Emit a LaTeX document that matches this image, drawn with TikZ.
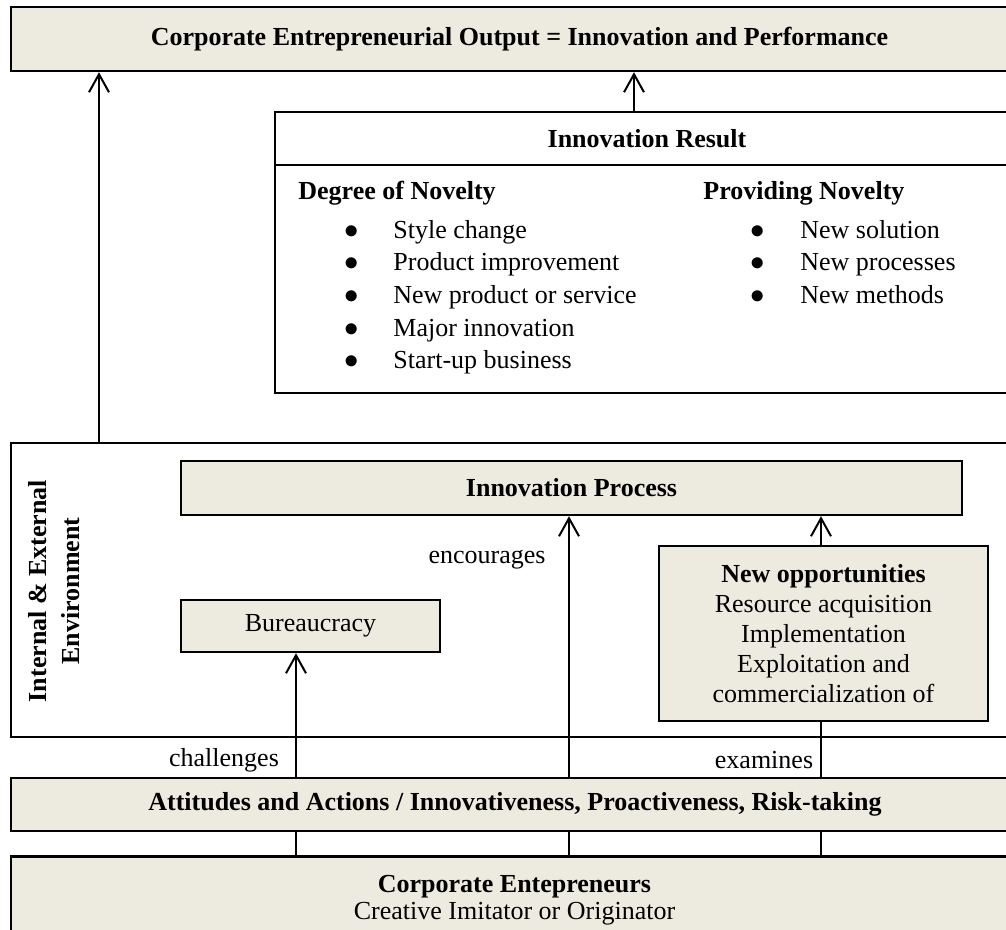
\documentclass[tikz,border=0pt]{standalone}
\usepackage{fontspec}
\setmainfont{Liberation Serif}
\usetikzlibrary{positioning, arrows.meta}
\definecolor{boxfill}{RGB}{237,235,224}
\newcommand{\diagfont}{\fontsize{13}{15}\selectfont}

\begin{document}
\begin{tikzpicture}[x=0.5pt, y=-0.5pt, font=\diagfont,
    box/.style={draw, line width=1.2pt, fill=boxfill, inner sep=0pt, align=center},
    whitebox/.style={box, fill=white},
    listtext/.style={anchor=base west, inner sep=0pt},
    link/.style={line width=1pt, -{Straight Barb[length=9pt, width=10pt]}},
    plain/.style={line width=1pt}]

    \useasboundingbox (0, 0) rectangle (1006, 930);
    \clip (0, 0) rectangle (1006, 930);

    % output on top
    \node[box, minimum width=508.5pt, minimum height=32pt, font=\diagfont\bfseries] (output)
        at (519.5, 39) {Corporate Entrepreneurial Output = Innovation and Performance};

    % innovation result
    \node[whitebox, minimum width=372pt, minimum height=140.5pt] (result) at (647, 252.5) {};
    \coordinate (hdr) at (275, 165);
    \draw[line width=1.2pt] (hdr) -- (hdr -| result.east);
    \node[font=\diagfont\bfseries] (resulttitle) at (647, 139) {Innovation Result};

    \node[listtext, font=\diagfont\bfseries] (degree) at (298, 200) {Degree of Novelty};
    \foreach \txt [count=\i] in {Style change, Product improvement, New product or service,
                                 Major innovation, Start-up business}
    {
        \node[anchor=base] (dbul\i) at (352, 205.5 + 32.7*\i) {\Large$\bullet$};
        \node[listtext] (ditem\i) at (393, 205.5 + 32.7*\i) {\txt};
    }

    \node[listtext, font=\diagfont\bfseries] (providing) at (703, 200) {Providing Novelty};
    \foreach \txt [count=\i] in {New solution, New processes, New methods}
    {
        \node[anchor=base] (pbul\i) at (758, 205.5 + 32.7*\i) {\Large$\bullet$};
        \node[listtext] (pitem\i) at (800, 205.5 + 32.7*\i) {\txt};
    };

    % environment
    \node[whitebox, minimum width=509.5pt, minimum height=147pt] (env) at (520.5, 590) {};
    \node[font=\fontsize{13}{16.3}\selectfont\bfseries, rotate=90, align=center] (envlabel)
        at (54, 591) {Internal \& External\\Environment};

    \node[box, minimum width=390.5pt, minimum height=27pt, font=\diagfont\bfseries] (process)
        at (571.5, 488) {Innovation Process};
    \node[box, minimum width=129.5pt, minimum height=26pt] (bureau) at (310.5, 626) {Bureaucracy};
    \node[box, minimum width=164.5pt, minimum height=87.5pt] (opps) at (823.5, 633.5)
        {\textbf{New opportunities}\\Resource acquisition\\Implementation\\Exploitation and\\commercialization of};

    % bottom
    \node[box, minimum width=504pt, minimum height=26.5pt, font=\diagfont\bfseries] (attitudes)
        at (515, 804.5) {Attitudes and Actions / Innovativeness, Proactiveness, Risk-taking};
    \node[box, minimum width=503.5pt, minimum height=43.5pt, font=\fontsize{13}{13.5}\selectfont] (corp)
        at (514.5, 900) {\textbf{Corporate Entepreneurs}\\Creative Imitator or Originator};

    \node (encourages) at (487, 560) {encourages};
    \node (challenges) at (224, 760) {challenges};
    \node (examines) at (764, 760) {examines};

    % connectors
    \coordinate (outcol) at (99, 0);
    \coordinate (rescol) at (634, 0);
    \coordinate (colA) at (296, 0);
    \coordinate (colB) at (569, 0);
    \coordinate (colC) at (821, 0);

    \draw[link] (outcol |- env.north) -- (outcol |- output.south);
    \draw[link] (rescol |- result.north) -- (rescol |- output.south);
    \foreach \c/\target in {colA/bureau, colB/process}
        \draw[link] (\c |- attitudes.north) -- (\c |- \target.south);
    \draw[plain] (colC |- attitudes.north) -- (colC |- opps.south);
    \draw[link] (colC |- opps.north) -- (colC |- process.south);
    \foreach \c in {colA, colB, colC}
        \draw[plain] (\c |- corp.north) -- (\c |- attitudes.south);

\end{tikzpicture}
\end{document}
